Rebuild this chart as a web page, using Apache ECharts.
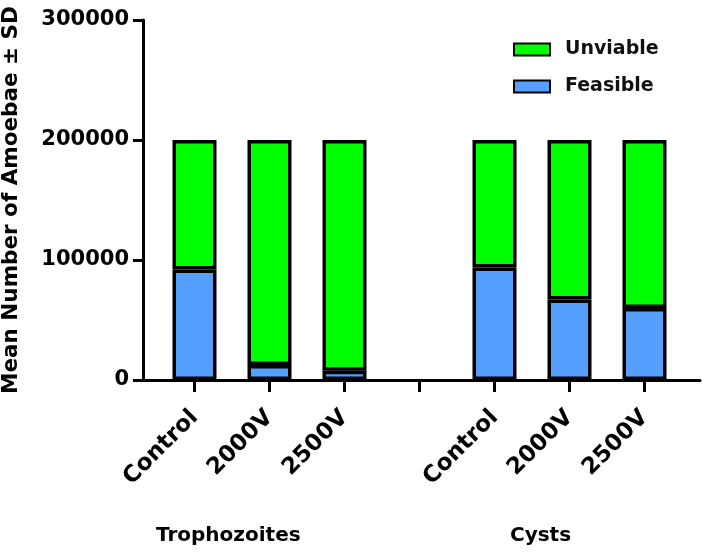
<!DOCTYPE html>
<html>
<head>
<meta charset="utf-8">
<script src="https://cdn.jsdelivr.net/npm/echarts@6/dist/echarts.min.js"></script>
<style>
  html, body { margin: 0; padding: 0; background: #fff; }
  #chart { width: 702px; height: 552px; }
</style>
</head>
<body>
<div id="chart"></div>
<script>
// categories (the empty one is the gap between the two groups)
const categories = ['Control', '2000V', '2500V', '', 'Control', '2000V', '2500V'];
const feasible = [92000, 12500, 7800, null, 93700, 67000, 60000];
const unviable = [108000, 187500, 192200, null, 106300, 133000, 140000];
const groups = ['Trophozoites', 'Cysts'];
const yTicks = { min: 0, max: 300000, interval: 100000 };

const FONT = 'DejaVu Sans';
const chart = echarts.init(document.getElementById('chart'), null, { renderer: 'canvas' });

const barBorder = { borderColor: '#000', borderWidth: 3.5 };

chart.setOption({
    animation: false,
    backgroundColor: '#fff',
    grid: [
        // bars
        { left: 157, width: 525, top: 20, height: 360, outerBoundsMode: 'none' },
        // axis frame, wider than the bars
        { left: 143, right: 2, top: 20, height: 360, outerBoundsMode: 'none' }
    ],
    legend: {
        data: ['Unviable', 'Feasible'],
        orient: 'vertical',
        icon: 'rect',
        left: 508,
        top: 35,
        itemWidth: 36,
        itemHeight: 12,
        itemGap: 18,
        textStyle: { fontFamily: FONT, fontWeight: 'bold', fontSize: 19, color: '#111', padding: [0, 0, 0, 10] }
    },
    xAxis: [
        {
            type: 'category',
            gridIndex: 0,
            data: categories,
            axisLine: { show: false },
            axisTick: { show: true, alignWithLabel: true, length: 12, lineStyle: { color: '#000', width: 3 } },
            axisLabel: {
                rotate: 45, margin: 34, interval: 0,
                fontFamily: FONT, fontWeight: 'bold', fontSize: 23, color: '#000'
            }
        },
        {
            type: 'value',
            gridIndex: 1,
            min: 0, max: 1,
            axisLine: { show: true, lineStyle: { color: '#000', width: 3 } },
            axisTick: { show: false },
            axisLabel: { show: false },
            splitLine: { show: false }
        }
    ],
    yAxis: [
        {
            type: 'value', gridIndex: 0,
            min: yTicks.min, max: yTicks.max, interval: yTicks.interval,
            show: false
        },
        {
            type: 'value', gridIndex: 1,
            min: yTicks.min, max: yTicks.max, interval: yTicks.interval,
            name: 'Mean Number of Amoebae ± SD',
            nameLocation: 'middle',
            nameGap: 121,
            nameTextStyle: { fontFamily: FONT, fontWeight: 'bold', fontSize: 21.5, color: '#000' },
            axisLine: { show: true, lineStyle: { color: '#000', width: 3 } },
            axisTick: { show: true, length: 10, lineStyle: { color: '#000', width: 3 } },
            axisLabel: {
                margin: 14, fontFamily: FONT, fontWeight: 'bold', fontSize: 21, color: '#000',
                formatter: v => String(v)
            },
            splitLine: { show: false }
        }
    ],
    series: [
        {
            name: 'Feasible', type: 'bar', stack: 'total',
            xAxisIndex: 0, yAxisIndex: 0,
            barWidth: 44,
            data: feasible,
            itemStyle: Object.assign({ color: '#55a0ff' }, barBorder)
        },
        {
            name: 'Unviable', type: 'bar', stack: 'total',
            xAxisIndex: 0, yAxisIndex: 0,
            barWidth: 44,
            data: unviable,
            itemStyle: Object.assign({ color: '#00ff00' }, barBorder)
        }
    ],
    graphic: [
        {
            type: 'text', left: 156, top: 526,
            style: { text: groups[0], fontFamily: FONT, fontWeight: 'bold', fontSize: 20, fill: '#000' }
        },
        {
            type: 'text', left: 510, top: 526,
            style: { text: groups[1], fontFamily: FONT, fontWeight: 'bold', fontSize: 20, fill: '#000' }
        }
    ]
});
</script>
</body>
</html>
